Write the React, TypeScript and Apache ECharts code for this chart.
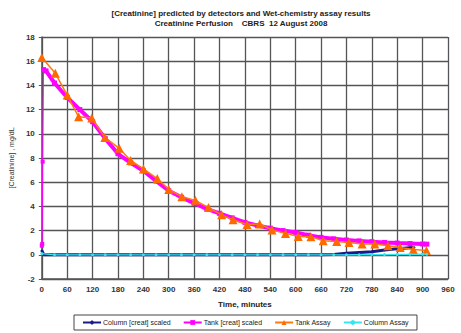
import React, { useEffect, useRef } from "react";
import * as echarts from "echarts";

const tankRiseTime = [0, 1, 2, 4];
const tankRiseValue = [0.75, 0.9, 7.7, 15.3];

const tankScaledTime = [4, 10, 30, 60, 90, 120, 150, 180, 210, 240, 270, 300, 330, 360, 390, 420, 450, 480, 510, 540, 570, 600, 630, 660, 690, 720, 750, 780, 810, 840, 870, 900, 910];
const tankScaledValue = [15.3, 15.2, 14.2, 13.0, 12.0, 11.0, 9.6, 8.35, 7.6, 6.95, 6.1, 5.3, 4.75, 4.26, 3.8, 3.43, 3.05, 2.68, 2.42, 2.2, 2.0, 1.85, 1.62, 1.44, 1.32, 1.22, 1.15, 1.08, 1.02, 0.97, 0.93, 0.89, 0.88];

const tankAssayTime = [0, 32, 60, 87, 118, 149, 183, 210, 240, 273, 300, 331, 363, 394, 425, 452, 485, 515, 544, 576, 606, 636, 665, 697, 726, 757, 787, 818, 847, 878, 909];
const tankAssayValue = [16.3, 15.0, 13.2, 11.4, 11.3, 9.7, 8.8, 7.8, 7.1, 6.3, 5.4, 4.8, 4.5, 3.9, 3.3, 2.9, 2.5, 2.55, 2.05, 1.77, 1.52, 1.5, 1.16, 1.1, 1.02, 0.89, 0.89, 0.75, 0.6, 0.44, 0.35];

const columnScaledTime = [0, 5, 60, 120, 180, 240, 300, 360, 420, 480, 540, 600, 660, 690, 720, 750, 780, 810, 840, 870, 880];
const columnScaledValue = [0.33, 0, 0, 0, 0, 0, 0, 0, 0, 0, 0, 0, 0, 0.02, 0.12, 0.2, 0.26, 0.4, 0.5, 0.58, 0.6];

const columnAssayTime = [0, 30, 60, 90, 120, 150, 180, 210, 240, 270, 300, 330, 360, 390, 420, 450, 480, 510, 540, 570, 600, 630, 660, 690, 720, 750, 780, 810, 840, 870, 900, 910];
const columnAssayValue = [0.1, 0, 0, 0, 0, 0, 0, 0, 0, 0, 0, 0, 0, 0, 0, 0, 0, 0, 0, 0, 0, 0, 0, 0, 0, 0.01, 0.02, 0.02, 0.03, 0.04, 0.05, 0.05];

const zip = (t: number[], v: number[]) => t.map((x, i) => [x, v[i]]);

const FONT = "Liberation Sans";

export default function App() {
  const ref = useRef<HTMLDivElement>(null);
  useEffect(() => {
    const chart = echarts.init(ref.current!, null, { renderer: "svg" });
    chart.setOption({
      animation: false,
      backgroundColor: "#ffffff",
      title: {
        text: "[Creatinine] predicted by detectors and Wet-chemistry assay results\nCreatinine Perfusion    CBRS  12 August 2008",
        left: 236,
        top: 3,
        textAlign: "center",
        textStyle: { fontFamily: FONT, fontSize: 8, fontWeight: "bold", color: "#222", lineHeight: 10 },
      },
      grid: { left: 37, top: 37, width: 411, height: 242, show: false },
      xAxis: {
        type: "value",
        min: 0,
        max: 960,
        interval: 60,
        name: "Time, minutes",
        nameLocation: "middle",
        nameGap: 21,
        nameTextStyle: { fontFamily: FONT, fontSize: 8, fontWeight: "bold", color: "#222" },
        axisLine: { show: true, onZero: false, lineStyle: { color: "#555", width: 1.5 } },
        axisTick: { show: false },
        axisLabel: { fontFamily: FONT, fontSize: 8, fontWeight: "bold", color: "#333", margin: 6 },
        splitLine: { show: true, lineStyle: { color: "#555", width: 1.3 } },
      },
      yAxis: {
        type: "value",
        min: -2,
        max: 18,
        interval: 2,
        name: "[Creatinine] , mg/dL",
        nameLocation: "middle",
        nameGap: 24,
        nameTextStyle: { fontFamily: FONT, fontSize: 7, color: "#333" },
        axisLine: { show: true, onZero: false, lineStyle: { color: "#555", width: 1.5 } },
        axisTick: { show: true, length: 3, inside: false, lineStyle: { color: "#555" } },
        axisLabel: { fontFamily: FONT, fontSize: 8, fontWeight: "bold", color: "#333", margin: 7 },
        splitLine: { show: true, lineStyle: { color: "#555", width: 1.3 } },
      },
      legend: {
        bottom: 3,
        left: 74,
        width: 380,
        itemGap: 12,
        itemWidth: 18,
        itemHeight: 6,
        padding: [4, 8, 4, 8],
        borderColor: "#444",
        borderWidth: 1,
        textStyle: { fontFamily: FONT, fontSize: 7, color: "#222", padding: [0, 0, 0, -3] },
        data: ["Column [creat] scaled", "Tank [creat] scaled", "Tank Assay", "Column Assay"],
      },
      series: [
        {
          name: "Column [creat] scaled",
          type: "line",
          data: zip(columnScaledTime, columnScaledValue),
          symbol: "diamond",
          symbolSize: 3,
          color: "#1a1a8c",
          lineStyle: { color: "#1a1a8c", width: 3 },
          itemStyle: { color: "#1a1a8c" },
          z: 3,
        },
        {
          name: "Tank [creat] scaled",
          type: "line",
          data: zip(tankScaledTime, tankScaledValue),
          symbol: "rect",
          symbolSize: 5,
          color: "#ff00ff",
          lineStyle: { color: "#ff00ff", width: 4 },
          itemStyle: { color: "#ff00ff" },
          z: 4,
        },
        {
          name: "Tank [creat] scaled",
          type: "line",
          data: zip(tankRiseTime, tankRiseValue),
          symbol: "rect",
          symbolSize: 4,
          color: "#ff00ff",
          lineStyle: { color: "#ff00ff", width: 1 },
          itemStyle: { color: "#ff00ff" },
          z: 4,
        },
        {
          name: "Tank Assay",
          type: "line",
          data: zip(tankAssayTime, tankAssayValue),
          symbol: "triangle",
          symbolSize: 9,
          color: "#ff6a00",
          lineStyle: { color: "#ff7a10", width: 1.5 },
          itemStyle: { color: "#ff6a00" },
          z: 5,
        },
        {
          name: "Column Assay",
          type: "line",
          data: zip(columnAssayTime, columnAssayValue),
          symbol: "circle",
          symbolSize: 3,
          color: "#33e6f0",
          lineStyle: { color: "#33e6f0", width: 1.2 },
          itemStyle: { color: "#33e6f0" },
          z: 6,
        },
      ],
    });
    return () => chart.dispose();
  }, []);
  return (
    <div
      ref={ref}
      style={{ position: "fixed", left: 0, top: 0, width: 461, height: 333 }}
    />
  );
}
